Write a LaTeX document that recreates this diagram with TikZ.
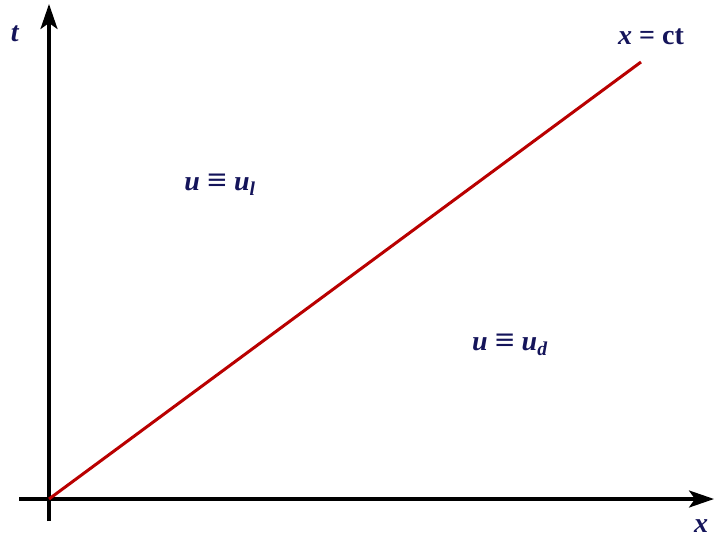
\documentclass[tikz,border=0pt]{standalone}
\usepackage{fontspec}
\setmainfont{Liberation Serif}
\usetikzlibrary{arrows.meta}
\definecolor{navy}{RGB}{20,20,90}
\definecolor{darkred}{RGB}{185,0,0}
\newcommand{\vr}[1]{\textbf{\textit{#1}}}
\newcommand{\eqv}{\textbf{\scalebox{1.25}[1.1]{≡}}}
\begin{document}
\begin{tikzpicture}[x=1pt, y=-1pt, >={Stealth[length=25pt, width=17pt, inset=6pt]},
  axis/.style={line width=3.2pt, ->},
  lbl/.style={text=navy, font=\fontsize{28}{32}\selectfont, inner sep=0pt}]
\useasboundingbox (0,0) rectangle (714,541);
\coordinate (o) at (49,499);
\coordinate (xend) at (714,499);
\coordinate (xbeg) at (19,499);
\coordinate (tend) at (49,4);
\coordinate (tbeg) at (49,521);
\coordinate (ray) at (641,62);
\draw[axis] (xbeg) -- (xend);
\draw[axis] (tbeg) -- (tend);
\draw[darkred, line width=3pt] (o) -- (ray);
\node[lbl] (tl) at (15,34) {\vr{t}};
\node[lbl] (xl) at (701,526) {\vr{x}};
\node[lbl] (ctl) at (651,37) {\vr{x} \textbf{= ct}};
\node[lbl] (ul) at (220,185) {\vr{u} \eqv{} \vr{u}\textsubscript{\vr{l}}};
\node[lbl] (ud) at (510,345) {\vr{u} \eqv{} \vr{u}\textsubscript{\vr{d}}};
\end{tikzpicture}
\end{document}
